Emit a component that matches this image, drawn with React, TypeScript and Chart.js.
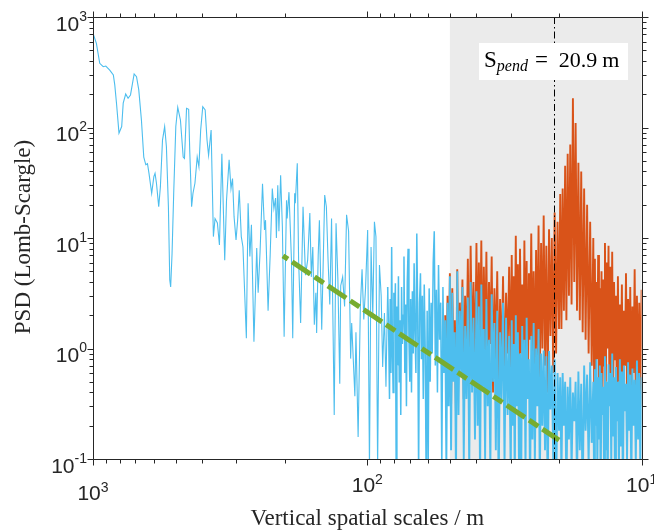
import React, { useEffect, useRef } from "react";
import { Chart, registerables } from "chart.js";

Chart.register(...registerables);

// ---------- data ----------
// Low-resolution part of the filtered spectrum (scales in m, PSD)
const blueSparseScales = [
  1000, 972, 945, 918, 898, 869, 843, 833, 821, 804, 786, 776, 760, 745, 730, 708, 694, 681, 666, 653,
  642, 633, 625, 611, 600, 594, 587, 576, 568, 558, 548, 540, 531, 525, 521, 515, 508, 499, 491, 480,
  469, 464, 456, 448, 444, 437, 432, 425, 417, 411, 405, 398, 390, 384, 379, 371, 364, 359, 352, 346,
  339, 331, 326, 319, 314, 310, 306, 301, 297, 293, 288, 284, 276,
  272, 268, 264.5, 259, 253, 250, 246, 241, 237, 235, 230, 226, 222, 219, 216, 214.5, 212, 210, 207, 204,
  201, 197, 196, 193, 189, 187, 184, 183, 180, 178, 175, 171.5, 168, 165, 162, 160, 158, 156, 154, 153,
  151, 149.5, 146.6, 143, 141, 139, 137, 135, 132, 130, 128, 126, 125, 123, 121, 119, 117, 115, 114, 111,
  110, 108, 106, 104.5, 103, 101.5, 99.7, 98.2, 96.9, 95.5, 94.2, 93, 91.7, 90.3, 89, 87.9, 86.6, 85.5, 84.3,
];
const blueSparsePSD = [
  713, 578, 381, 355, 360, 331, 299, 243, 166, 89, 102, 166, 201, 184, 197, 305, 288, 219, 117, 54,
  46, 47, 38.5, 25.4, 35.9, 38.5, 31.3, 19.2, 29, 77, 102, 67, 19.2, 4.17, 3.6, 7.2, 25, 102, 152, 117,
  54, 52.5, 149, 146, 62.6, 19.2, 25.4, 31.3, 54, 44, 95, 154, 144, 77, 56, 95, 10.3, 15, 13.7, 8.65,
  58, 6.3, 22, 51, 28, 34.5, 15.6, 9.6, 14.4, 27, 10.3, 8.3, 1.24,
  20.6, 6.8, 13.2, 1.15, 8.1, 3.2, 7.5, 31, 11.8, 14.5, 2.2, 7.0, 28, 18.5, 23, 10, 30, 11.5, 37, 12.7,
  1.28, 22, 15, 26, 6.3, 1.24, 25.4, 20.6, 47.5, 6.3, 1.7, 19.2, 4.6, 6.3, 16.8, 4.45, 8.3, 1.64, 3.2, 1.38,
  7.0, 14.5, 1.48, 24.5, 19.2, 6.3, 2.5, 15, 0.25, 13.6, 4.2, 0.48, 3.7, 4.45, 2.4, 16.2, 11.5, 0.81, 1.7, 0.37,
  1.4, 0.158, 2.4, 5.2, 1.83, 3.5, 11.8, 0.08, 8.3, 2.0, 14, 10.3, 0.08, 5.7, 3.0, 0.68, 2.1, 0.45, 3.6,
];

const blueMidScales = [
  83.5, 83, 82.5, 82, 81.5, 81, 80.5, 80, 79.5, 79, 78.5, 78, 77.5, 77, 76.5, 76, 75.5, 75, 74.5, 74,
  73.5, 73, 72.5, 72, 71.5, 71, 70.5, 70, 69.5, 69, 68.5, 68, 67.5, 67, 66.5, 66, 65.5, 65, 64.5, 64,
  63.5, 63, 62.5, 62, 61.5, 61, 60.5, 60, 59.5, 59, 58.5, 58, 57.5, 57, 56.5, 56, 55.5, 55, 54.5, 54,
  53.5, 53, 52.5,
];
const blueMidPSD = [
  1.2, 0.35, 2.8, 0.6, 8.3, 1.0, 0.4, 3.2, 1.5, 3.9, 0.09, 2.4, 0.7, 4.5, 0.5, 1.8, 0.25, 3.6, 1.1, 2.0,
  6.8, 0.6, 2.5, 0.3, 4.0, 8.0, 1.2, 0.5, 2.8, 0.4, 3.3, 0.9, 5.9, 1.4, 0.6, 11, 2.0, 0.07, 2.6, 4.8,
  0.8, 3.0, 0.35, 3.8, 1.0, 0.06, 2.2, 0.07, 3.5, 0.5, 2.6, 0.9, 6.0, 11.5, 0.7, 3.4, 0.4, 5.7, 1.2, 2.6,
  0.08, 3.6, 0.6,
];

// High-resolution part, shared by both spectra (scales in m)
const denseScales = [
  52, 51.5, 51, 50.5, 50, 49.5, 49, 48.5, 48, 47.5, 47, 46.5, 46, 45.5, 45, 44.5, 44, 43.5, 43, 42.5,
  42, 41.5, 41, 40.5, 40,
  39.6, 39.2, 38.8, 38.4, 38, 37.6, 37.2, 36.8, 36.4, 36, 35.6, 35.2, 34.8, 34.4, 34, 33.6, 33.2, 32.8,
  32.4, 32, 31.6, 31.2, 30.8, 30.4, 30,
  29.75, 29.5, 29.25, 29, 28.75, 28.5, 28.25, 28, 27.75, 27.5, 27.25, 27, 26.75, 26.5, 26.25, 26, 25.75,
  25.5, 25.25, 25, 24.75, 24.5, 24.25, 24, 23.75, 23.5, 23.25, 23, 22.75, 22.5, 22.25, 22, 21.75, 21.5,
  21.25, 21, 20.75, 20.5, 20.25, 20,
  19.8, 19.6, 19.4, 19.2, 19, 18.8, 18.6, 18.4, 18.2, 18, 17.8, 17.6, 17.4, 17.2, 17, 16.8, 16.6, 16.4,
  16.2, 16, 15.8, 15.6, 15.4, 15.2, 15,
  14.9, 14.8, 14.7, 14.6, 14.5, 14.4, 14.3, 14.2, 14.1, 14, 13.9, 13.8, 13.7, 13.6, 13.5, 13.4, 13.3,
  13.2, 13.1, 13, 12.9, 12.8, 12.7, 12.6, 12.5, 12.4, 12.3, 12.2, 12.1, 12, 11.9, 11.8, 11.7, 11.6, 11.5,
  11.4, 11.3, 11.2, 11.1, 11, 10.9, 10.8, 10.7, 10.6, 10.5, 10.4, 10.3, 10.2, 10.1, 10,
];
const blueDensePSD = [
  1.8, 0.09, 2.6, 0.3, 4.5, 0.12, 3.2, 0.5, 1.4, 0.07, 5.0, 0.25, 2.2, 0.6, 3.6, 0.1, 1.6, 0.35, 2.9, 0.08,
  4.0, 0.4, 1.9, 0.15, 3.3,
  0.2, 2.4, 0.06, 3.8, 0.45, 1.5, 0.1, 2.8, 0.3, 1.2, 0.08, 3.1, 0.5, 1.7, 0.12, 2.2, 0.05, 1.4, 0.35, 2.6,
  0.09, 1.9, 0.25, 1.3, 0.07,
  1.8, 0.2, 1.1, 0.06, 2.0, 0.3, 1.4, 0.1, 0.9, 0.04, 1.6, 0.25, 1.2, 0.08, 1.9, 0.35, 0.8, 0.05, 1.3, 0.15,
  1.7, 0.09, 1.0, 0.3, 1.5, 0.06, 0.9, 0.2, 0.96, 0.12, 0.85, 0.05, 0.95, 0.28, 0.7, 0.1, 0.8, 0.04, 0.6, 0.18,
  0.55, 0.07, 0.6, 0.2, 0.5, 0.05, 0.45, 0.15, 0.55, 0.08, 0.4, 0.22, 0.5, 0.06, 0.62, 0.12, 0.48, 0.04,
  0.7, 0.18, 0.58, 0.09, 0.75, 0.14, 0.5,
  0.06, 0.65, 0.2, 0.8, 0.08, 0.55, 0.15, 0.7, 0.05, 0.6, 0.25, 0.45, 0.07, 0.85, 0.12, 0.5, 0.04, 0.72,
  0.3, 0.6, 0.09, 0.9, 0.16, 0.55, 0.06, 0.68, 0.22, 0.5, 0.08, 0.8, 0.13, 0.62, 0.05, 0.7, 0.27, 0.48,
  0.1, 0.75, 0.18, 0.58, 0.06, 0.66, 0.2, 0.52, 0.09, 0.78, 0.15, 0.6, 0.07, 0.55,
];
const orangeDensePSD = [
  2.0, 0.4, 3.0, 0.5, 4.8, 0.3, 3.5, 0.8, 1.8, 0.25, 5.2, 0.6, 2.6, 0.9, 4.2, 0.35, 3.0, 0.7, 6.5, 0.5,
  8.5, 0.9, 4.0, 0.6, 9.0,
  0.7, 6.0, 1.0, 9.5, 0.6, 5.5, 0.9, 7.5, 0.5, 4.0, 1.1, 6.8, 0.4, 3.5, 0.8, 5.0, 0.45, 2.8, 0.7, 4.5,
  0.5, 3.2, 0.9, 5.5, 0.6,
  7.0, 0.5, 4.5, 1.0, 10.5, 0.6, 5.8, 0.4, 8.0, 0.9, 3.8, 0.5, 9.5, 0.7, 6.2, 0.35, 4.8, 1.2, 11.0, 0.6,
  5.0, 0.45, 7.8, 0.8, 13.0, 0.5, 9.0, 1.0, 16.0, 0.7, 8.5, 0.4, 12.0, 1.3, 10.0, 0.6, 17.0, 0.9, 14.0, 1.5,
  25, 1.5, 28, 2.2, 45, 1.8, 58, 3.0, 70, 2.5, 184, 4.0, 110, 2.2, 48, 1.8, 40, 1.4, 28, 1.2,
  20, 0.9, 14, 0.7, 10,
  0.5, 6.5, 0.4, 4.0, 0.8, 7.0, 0.35, 3.5, 0.6, 5.0, 0.3, 4.2, 0.7, 9.0, 0.5, 6.0, 1.0, 8.5, 0.4, 5.5,
  0.6, 7.5, 0.35, 4.0, 0.8, 3.0, 0.3, 4.5, 0.5, 2.5, 0.6, 3.8, 0.28, 2.2, 0.7, 4.8, 0.4, 2.8, 0.5, 3.6,
  0.3, 2.4, 0.6, 5.2, 0.35, 3.0, 0.45, 2.6, 0.3, 3.4,
];

// Power-law reference line
const fitScales = [203, 20];
const fitPSD = [6.9, 0.148];

// Pendulum band and pendulum scale
const pendulumBand = [50, 10];
const sPend = 20.9;

// Axis ticks
const xTickValues = [1000, 100, 10];
const xTickExponents = ["3", "2", "1"];
const xMinorTicks = [900, 800, 700, 600, 500, 400, 300, 200, 90, 80, 70, 60, 50, 40, 30, 20];
const yTickValues = [0.1, 1, 10, 100, 1000];
const yTickExponents = ["-1", "0", "1", "2", "3"];
const yMinorTicks = [
  0.2, 0.3, 0.4, 0.5, 0.6, 0.7, 0.8, 0.9, 2, 3, 4, 5, 6, 7, 8, 9,
  20, 30, 40, 50, 60, 70, 80, 90, 200, 300, 400, 500, 600, 700, 800, 900,
];
const xTitle = "Vertical spatial scales / m";
const yTitle = "PSD (Lomb-Scargle)";

// ---------- helpers ----------
const zip = (xs: number[], ys: number[]) => xs.map((x, i) => ({ x, y: ys[i] }));
// thicker strokes where the spectrum is sampled very densely
const segWidth = (ctx: any) => {
  const xv = Math.min(ctx.p0.parsed.x, ctx.p1.parsed.x);
  if (xv < 52.2) return 1.9;
  if (xv < 84) return 1.5;
  return 1.1;
};

const AXIS_COLOR = "#262626";
const SANS = "'Liberation Sans', Arial, sans-serif";
const SERIF = "'Liberation Serif', 'Times New Roman', serif";

const decorPlugin = {
  id: "decor",
  beforeDatasetsDraw(chart: any) {
    const { ctx, chartArea: a, scales } = chart;
    const x1 = scales.x.getPixelForValue(pendulumBand[0]);
    const x2 = scales.x.getPixelForValue(pendulumBand[1]);
    ctx.save();
    ctx.fillStyle = "#ebebeb";
    ctx.fillRect(Math.min(x1, x2), a.top, Math.abs(x2 - x1), a.bottom - a.top);
    ctx.restore();
  },
  afterDatasetsDraw(chart: any) {
    const { ctx, chartArea: a, scales } = chart;
    const px = Math.round(scales.x.getPixelForValue(sPend)) + 0.5;
    ctx.save();
    // dash-dot line
    ctx.strokeStyle = "#000";
    ctx.lineWidth = 1;
    ctx.setLineDash([7, 3, 1.5, 3]);
    ctx.beginPath();
    ctx.moveTo(px, a.top);
    ctx.lineTo(px, a.bottom);
    ctx.stroke();
    ctx.setLineDash([]);
    // annotation box
    const bw = 149;
    const bh = 37;
    const bx = a.right - 13.6 - bw;
    const by = a.top + 26;
    ctx.fillStyle = "#ffffff";
    ctx.fillRect(bx, by, bw, bh);
    ctx.fillStyle = "#000";
    ctx.textAlign = "left";
    ctx.textBaseline = "alphabetic";
    const base = by + 24;
    let cx = bx + 5;
    ctx.font = `23px ${SERIF}`;
    ctx.fillText("S", cx, base);
    cx += ctx.measureText("S").width;
    ctx.font = `italic 16px ${SERIF}`;
    ctx.fillText("pend", cx, base + 4);
    cx += ctx.measureText("pend").width + 7;
    ctx.font = `23px ${SERIF}`;
    ctx.fillText("=", cx, base);
    cx += ctx.measureText("=").width + 11;
    ctx.font = `22px ${SERIF}`;
    ctx.fillText("20.9", cx, base);
    cx += ctx.measureText("20.9").width + 5;
    ctx.fillText("m", cx, base);
    ctx.restore();
  },
  afterDraw(chart: any) {
    const { ctx, chartArea: a, scales } = chart;
    const xs = scales.x;
    const ys = scales.y;
    const L = Math.round(a.left) + 0.5;
    const R = Math.round(a.right) + 0.5;
    const T = Math.round(a.top) + 0.5;
    const B = Math.round(a.bottom) + 0.5;
    ctx.save();
    ctx.setLineDash([]);
    ctx.strokeStyle = AXIS_COLOR;
    ctx.lineWidth = 1;
    ctx.beginPath();
    ctx.rect(L, T, R - L, B - T);
    ctx.stroke();

    const seg = (x1: number, y1: number, x2: number, y2: number) => {
      ctx.beginPath();
      ctx.moveTo(x1, y1);
      ctx.lineTo(x2, y2);
      ctx.stroke();
    };
    const major = 6;
    const minor = 4;
    const xAll = [
      ...xTickValues.map((v) => [v, major]),
      ...xMinorTicks.map((v) => [v, minor]),
    ];
    xAll.forEach(([v, len]) => {
      const p = Math.round(xs.getPixelForValue(v)) + 0.5;
      seg(p, B, p, B + len);
      seg(p, T, p, T - len);
    });
    const yAll = [
      ...yTickValues.map((v) => [v, major]),
      ...yMinorTicks.map((v) => [v, minor]),
    ];
    yAll.forEach(([v, len]) => {
      const p = Math.round(ys.getPixelForValue(v)) + 0.5;
      seg(L - len, p, L, p);
      seg(R, p, R + len, p);
    });

    // tick labels
    ctx.fillStyle = AXIS_COLOR;
    ctx.textBaseline = "alphabetic";
    ctx.textAlign = "left";
    const baseFont = `21px ${SANS}`;
    const expFont = `14px ${SANS}`;
    yTickValues.forEach((v, i) => {
      const p = ys.getPixelForValue(v);
      ctx.font = expFont;
      const we = ctx.measureText(yTickExponents[i]).width;
      ctx.font = baseFont;
      const wb = ctx.measureText("10").width;
      const right = a.left - 6;
      ctx.fillText("10", right - we - wb, p + 13.5);
      ctx.font = expFont;
      ctx.fillText(yTickExponents[i], right - we, p + 3.5);
    });
    xTickValues.forEach((v, i) => {
      const p = xs.getPixelForValue(v);
      ctx.font = expFont;
      const we = ctx.measureText(xTickExponents[i]).width;
      ctx.font = baseFont;
      const wb = ctx.measureText("10").width;
      const drop = Math.abs(p - a.left) < 1 ? 8 : 0;
      const left = p - (we + wb) / 2;
      ctx.fillText("10", left, a.bottom + 33 + drop);
      ctx.font = expFont;
      ctx.fillText(xTickExponents[i], left + wb, a.bottom + 24.5 + drop);
    });

    // axis titles
    ctx.fillStyle = AXIS_COLOR;
    ctx.font = `23px ${SERIF}`;
    ctx.textAlign = "center";
    ctx.fillText(xTitle, (a.left + a.right) / 2, 525);
    ctx.save();
    ctx.translate(30, (a.top + a.bottom) / 2 - 1);
    ctx.rotate(-Math.PI / 2);
    ctx.fillText(yTitle, 0, 0);
    ctx.restore();
    ctx.restore();
  },
};

export default function App() {
  const ref = useRef<HTMLCanvasElement>(null);
  useEffect(() => {
    if (!ref.current) return;
    const blueData = [
      ...zip(blueSparseScales, blueSparsePSD),
      ...zip(blueMidScales, blueMidPSD),
      ...zip(denseScales, blueDensePSD),
    ];
    const orangeData = zip(denseScales, orangeDensePSD);
    const fitData = zip(fitScales, fitPSD);
    const chart = new Chart(ref.current, {
      type: "line",
      data: {
        datasets: [
          {
            label: "power-law fit",
            data: fitData,
            borderColor: "#77AC30",
            borderWidth: 5,
            borderDash: [11, 5, 22, 5],
            borderDashOffset: 5,
            borderCapStyle: "butt",
            pointRadius: 0,
            order: 0,
          },
          {
            label: "filtered",
            data: blueData,
            borderColor: "#4DBEEE",
            borderWidth: 1.1,
            segment: { borderWidth: segWidth },
            pointRadius: 0,
            order: 1,
          },
          {
            label: "raw",
            data: orangeData,
            borderColor: "#D95319",
            borderWidth: 1.9,
            segment: { borderWidth: segWidth },
            pointRadius: 0,
            order: 2,
          },
        ],
      },
      options: {
        animation: false,
        responsive: false,
        devicePixelRatio: 1,
        parsing: false as any,
        normalized: false,
        layout: { padding: { top: 17, right: 12.4, left: 0, bottom: 0 } },
        elements: { line: { tension: 0 }, point: { radius: 0 } },
        plugins: { legend: { display: false }, tooltip: { enabled: false } },
        scales: {
          x: {
            type: "logarithmic",
            min: 10,
            max: 1000,
            reverse: true,
            grid: { display: false },
            border: { display: false },
            ticks: { display: false },
            afterFit: (s: any) => {
              s.height = 71;
            },
          },
          y: {
            type: "logarithmic",
            min: 0.1,
            max: 1000,
            grid: { display: false },
            border: { display: false },
            ticks: { display: false },
            afterFit: (s: any) => {
              s.width = 93;
            },
          },
        },
      } as any,
      plugins: [decorPlugin],
    });
    return () => chart.destroy();
  }, []);
  return (
    <div style={{ position: "absolute", left: 0, top: 0, width: 654, height: 530, background: "#fff" }}>
      <canvas ref={ref} width={654} height={530} style={{ display: "block", width: 654, height: 530 }} />
    </div>
  );
}
